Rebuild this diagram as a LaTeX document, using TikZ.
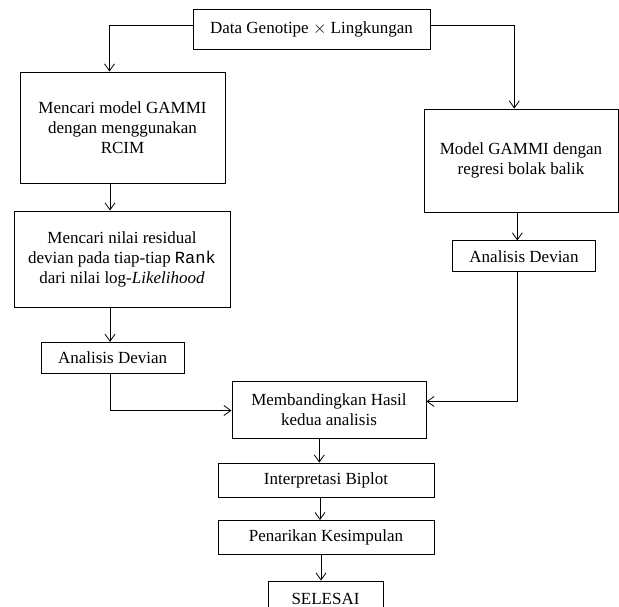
\documentclass[tikz,border=0pt]{standalone}
\usepackage{fontspec}
\setmainfont{Liberation Serif}
\setmonofont{Liberation Mono}
\usepackage{tikz}
\usetikzlibrary{arrows.meta,calc}

\begin{document}
\begin{tikzpicture}[
  x=1pt, y=-1pt,
  font=\fontsize{17}{20}\selectfont,
  block/.style={draw, align=center, inner sep=0pt, line width=0.9pt},
  arrow/.style={-{Straight Barb[length=7pt,width=10pt]}, line width=0.8pt},
]
\useasboundingbox (0,0) rectangle (619,607);
\clip (0,0) rectangle (619,607);

\node[block, minimum width=237pt, minimum height=40pt] (data) at (311.5,29) {Data Genotipe $\times$ Lingkungan};
\node[block, minimum width=205pt, minimum height=111pt] (rcim) at (122.5,127.5) {Mencari model GAMMI\\dengan menggunakan\\RCIM};
\node[block, minimum width=216pt, minimum height=96pt] (resid) at (122,259) {Mencari nilai residual\\devian pada tiap-tiap \texttt{Rank}\\dari nilai log-\textit{Likelihood}};
\node[block, minimum width=143pt, minimum height=31pt] (devL) at (112.6,357.8) {Analisis Devian};
\node[block, minimum width=194pt, minimum height=103pt] (gammi) at (521,160.5) {Model GAMMI dengan\\regresi bolak balik};
\node[block, minimum width=143pt, minimum height=31pt] (devR) at (524,256.4) {Analisis Devian};
\node[block, minimum width=194pt, minimum height=57pt] (compare) at (329,409.5) {Membandingkan Hasil\\kedua analisis};
\node[block, minimum width=216pt, minimum height=34pt] (biplot) at (326,480) {Interpretasi Biplot};
\node[block, minimum width=216pt, minimum height=34pt] (concl) at (326,537.5) {Penarikan Kesimpulan};
\node[block, minimum width=115pt, minimum height=35pt] (done) at (325.5,598.5) {SELESAI};

% left branch
\draw[arrow] ([yshift=4pt]data.west) -| ([xshift=-13pt]rcim.north);
\draw[arrow] ([xshift=-12.5pt]rcim.south) -- ([xshift=-12.5pt]rcim.south |- resid.north);
\draw[arrow] ([xshift=-12pt]resid.south) -- ([xshift=-12pt]resid.south |- devL.north);
\draw[arrow] ([xshift=-2.6pt]devL.south) |- ([yshift=-1pt]compare.west);

% right branch
\draw[arrow] ([yshift=4pt]data.east) -| ([xshift=-6.7pt]gammi.north);
\draw[arrow] ([xshift=-3.7pt]gammi.south) -- ([xshift=-3.7pt]gammi.south |- devR.north);
\draw[arrow] ([xshift=-7pt]devR.south) |- ([yshift=8pt]compare.east);

% bottom chain
\draw[arrow] ([xshift=-9.7pt]compare.south) -- ([xshift=-9.7pt]compare.south |- biplot.north);
\draw[arrow] ([xshift=-6pt]biplot.south) -- ([xshift=-6pt]biplot.south |- concl.north);
\draw[arrow] ([xshift=-5pt]concl.south) -- ([xshift=-5pt]concl.south |- done.north);

\end{tikzpicture}
\end{document}
